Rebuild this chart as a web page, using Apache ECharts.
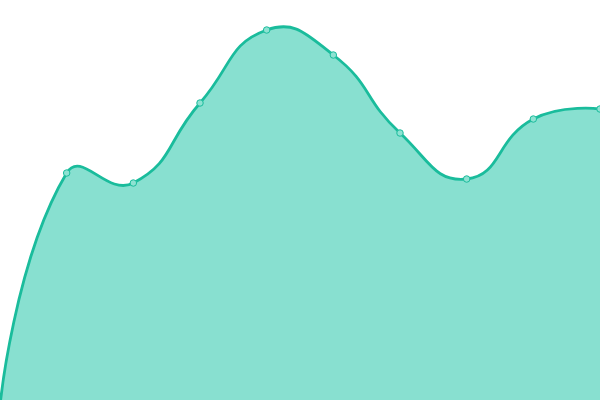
<!DOCTYPE html>
<html><head><meta charset="utf-8">
<script src="https://cdn.jsdelivr.net/npm/echarts@6/dist/echarts.min.js"></script>
<style>html,body{margin:0;padding:0;background:#fff}#c{width:600px;height:400px}</style>
</head><body><div id="c"></div>
<script>
var categories = ['1','2','3','4','5','6','7','8','9','10'];
var values = [-6, 227, 217, 297, 370, 345, 267, 221, 281, 291];

var LINE_COLOR = '#1abc9c';
var AREA_COLOR = '#88e0d0';
var SMOOTH = 0.5;

function buildSmoothPath(pts, smooth) {
  var n = pts.length;
  var before = [], after = [];
  for (var i = 0; i < n; i++) {
    var p = pts[i];
    if (i === 0 || i === n - 1) { before.push(p); after.push(p); continue; }
    var prev = pts[i - 1], next = pts[i + 1];
    var vx = (next[0] - prev[0]) * smooth, vy = (next[1] - prev[1]) * smooth;
    var d0 = Math.hypot(p[0] - prev[0], p[1] - prev[1]);
    var d1 = Math.hypot(p[0] - next[0], p[1] - next[1]);
    var s = d0 + d1;
    if (s) { d0 /= s; d1 /= s; }
    before.push([p[0] - vx * d0, p[1] - vy * d0]);
    after.push([p[0] + vx * d1, p[1] + vy * d1]);
  }
  var d = 'M' + pts[0][0] + ' ' + pts[0][1];
  for (var j = 0; j < n - 1; j++) {
    d += ' C' + after[j][0] + ' ' + after[j][1] + ' ' + before[j + 1][0] + ' ' + before[j + 1][1] + ' ' + pts[j + 1][0] + ' ' + pts[j + 1][1];
  }
  return d;
}

var chart = echarts.init(document.getElementById('c'));
chart.setOption({
  animation: false,
  grid: {left: 0, right: 0, top: 0, bottom: 0},
  xAxis: {type: 'category', data: categories, boundaryGap: false, show: false},
  yAxis: {type: 'value', min: 0, max: 400, show: false},
  series: [{
    type: 'custom',
    data: values.map(function (v, i) { return [i, v]; }),
    encode: {x: 0, y: 1},
    clip: true,
    z: 2,
    renderItem: function (params, api) {
      if (params.dataIndex !== 0) return null;
      var pts = values.map(function (v, i) { return api.coord([i, v]); });
      var base = api.coord([0, 0])[1];
      var linePath = buildSmoothPath(pts, SMOOTH);
      var areaPath = linePath + ' L' + pts[pts.length - 1][0] + ' ' + base + ' L' + pts[0][0] + ' ' + base + ' Z';
      return {
        type: 'group',
        children: [
          {type: 'path', shape: {pathData: areaPath}, style: {fill: AREA_COLOR, stroke: null}},
          {type: 'path', shape: {pathData: linePath}, style: {fill: null, stroke: LINE_COLOR, lineWidth: 2.8, lineJoin: 'round'}}
        ]
      };
    }
  }, {
    type: 'scatter',
    data: values.map(function (v, i) { return [i, v]; }),
    symbol: 'circle',
    symbolSize: 6.5,
    clip: true,
    z: 3,
    itemStyle: {color: '#8ee2d2', borderColor: LINE_COLOR, borderWidth: 1, opacity: 1}
  }]
});
</script></body></html>
